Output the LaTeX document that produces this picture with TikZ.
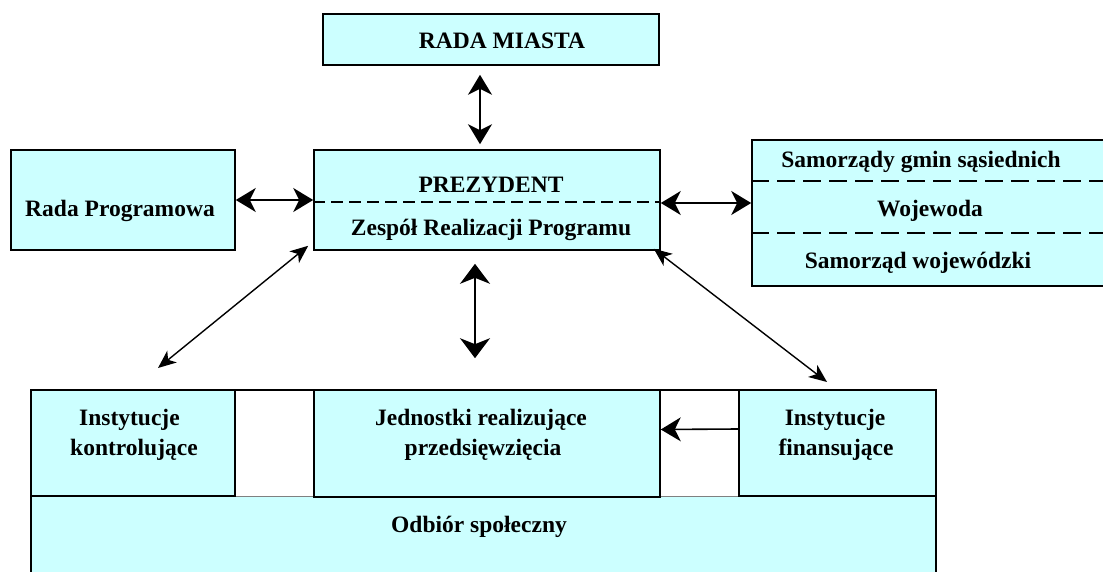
\documentclass[tikz,border=0pt]{standalone}
\usepackage{fontspec}
\setmainfont{Liberation Serif}
\usetikzlibrary{arrows.meta,calc}
\definecolor{cyanfill}{HTML}{CCFFFF}
\begin{document}
\begin{tikzpicture}[x=1pt,y=-1pt,
  box/.style={draw=black,line width=1.6pt,fill=cyanfill,inner sep=0pt,rectangle},
  txt/.style={font=\fontsize{23.5}{28}\selectfont\bfseries,inner sep=0pt,anchor=base},
  arr/.style={line width=1.8pt,{Stealth[length=20pt,width=24pt,inset=6pt]}-{Stealth[length=20pt,width=24pt,inset=6pt]}},
  arrw/.style={line width=1.8pt,{Stealth[length=20pt,width=30pt,inset=6pt]}-{Stealth[length=20pt,width=30pt,inset=6pt]}},
  diag/.style={line width=1.4pt,{Stealth[length=18pt,width=15pt,inset=5pt]}-{Stealth[length=18pt,width=15pt,inset=5pt]}},
  one/.style={line width=1.6pt,-{Stealth[length=20pt,width=24pt,inset=6pt]}},
  sep/.style={line width=1.4pt,dash pattern=on 18pt off 8pt}]
\useasboundingbox (0,0) rectangle (1103,572);
\fill[white] (0,0) rectangle (1103,572);
% top
\node[box,minimum width=336pt,minimum height=51pt] (rada) at (491,39.5) {};
\node[txt] (radat) at (502,49) {RADA MIASTA};
% president
\node[box,minimum width=346pt,minimum height=100pt] (prez) at (487,200) {};
\draw[line width=1.4pt,dash pattern=on 12pt off 6pt] (prez.west |- 0,202) -- (prez.east |- 0,202);
\node[txt] (prezt) at (491,193) {PREZYDENT};
\node[txt] (zesp) at (491,236) {Zespół Realizacji Programu};
% left
\node[box,minimum width=224pt,minimum height=100pt] (rprog) at (123,200) {};
\node[txt] (rprogt) at (120,217) {Rada Programowa};
% right
\node[box,minimum width=358pt,minimum height=146pt] (side) at (931,213) {};
\draw[sep] (side.west |- 0,181) -- (1103,181);
\draw[sep] (side.west |- 0,233) -- (1103,233);
\node[txt] (sam1) at (921,168) {Samorządy gmin sąsiednich};
\node[txt] (woj) at (930,217) {Wojewoda};
\node[txt] (sam2) at (918,268) {Samorząd wojewódzki};
% bottom
\node[box,minimum width=905pt,minimum height=190pt] (odb) at (483.5,485) {};
\fill[white] (235,391) rectangle (314,495.5);
\fill[white] (660,391) rectangle (739,495.5);
\draw[gray,line width=1pt] (235,496) -- (314,496);
\draw[gray,line width=1pt] (660,496) -- (739,496);
\node[box,minimum width=204pt,minimum height=106pt] (kontr) at (133,443) {};
\node[box,minimum width=346pt,minimum height=107pt] (jedn) at (487,443.5) {};
\node[box,minimum width=197pt,minimum height=106pt] (fin) at (837.5,443) {};
\node[txt] (k1) at (129.5,425) {Instytucje};
\node[txt] (k2) at (134,455) {kontrolujące};
\node[txt] (j1) at (481,425) {Jednostki realizujące};
\node[txt] (j2) at (483,455) {przedsięwzięcia};
\node[txt] (f1) at (835,425) {Instytucje};
\node[txt] (f2) at (836,455) {finansujące};
\node[txt] (odbt) at (479,532) {Odbiór społeczny};
% connectors
\coordinate (ldend) at (158,368);
\coordinate (rdend) at (827,382);
\draw[arr] ([xshift=-11pt,yshift=-9pt]rada.south) -- ([xshift=-7pt,yshift=5pt]prez.north);
\draw[arr] (rprog.east) -- (rprog.east -| prez.west);
\draw[arr] ([yshift=-3pt]prez.east) -- ([yshift=-3pt]prez.east -| side.west);
\draw[diag] ([xshift=-5pt,yshift=5pt]prez.south west) -- (ldend);
\draw[diag] ([xshift=-7pt,yshift=2pt]prez.south east) -- (rdend);
\draw[arrw] ([xshift=-12pt,yshift=-13pt]prez.south) -- ([xshift=-12pt,yshift=31pt]jedn.north);
\draw[one] ([yshift=14pt]fin.west) -- ([yshift=14pt]jedn.east);
\end{tikzpicture}
\end{document}
